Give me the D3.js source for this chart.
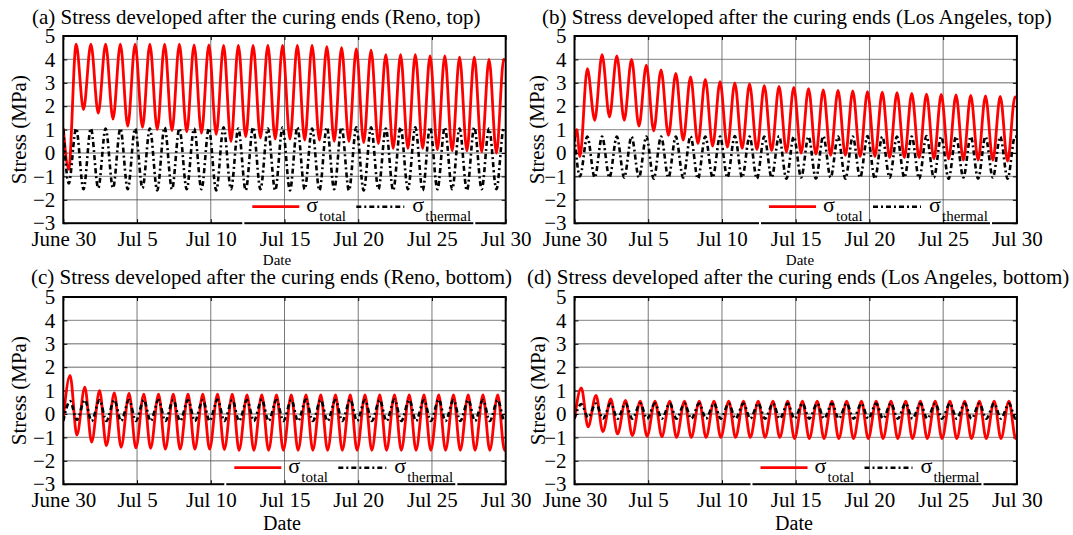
<!DOCTYPE html>
<html>
<head>
<meta charset="utf-8">
<script src="https://cdn.jsdelivr.net/npm/d3@7"></script>
<style>
body { margin: 0; background: #fff; }
text { font-family: "Times New Roman", "Liberation Serif", serif; fill: #000; }
</style>
</head>
<body>
<script>
// axis ticks
var dateTicks = [0, 5, 10, 15, 20, 25, 30];
var dateLabels = ["June 30", "Jul 5", "Jul 10", "Jul 15", "Jul 20", "Jul 25", "Jul 30"];
var stressTicks = [-3, -2, -1, 0, 1, 2, 3, 4, 5];

// top of slab: daily trough ~ day+0.37, daily peak ~ day+0.87
// bottom of slab: daily peak ~ day+0.46, daily trough ~ day+0.92

// (a) Reno, top
var renoTopTotalStart = [[0, 1.05]];
var renoTopTotalTroughs = [-0.7, 1.85, 1.7, 1.45, 1.15, 1.1, 1.0, 0.95, 0.9, 0.85, 0.8, 0.5, 0.7, 0.65, 0.6, 0.6, 0.55, 0.55, 0.5, 0.5, 0.45, 0.4, 0.2, 0.2, 0.2, 0.15, 0.1, 0.1, 0.05, 0.0];
var renoTopTotalPeaks = [4.65, 4.65, 4.65, 4.65, 4.65, 4.65, 4.65, 4.65, 4.62, 4.62, 4.6, 4.6, 4.6, 4.6, 4.6, 4.6, 4.6, 4.55, 4.5, 4.45, 4.4, 4.2, 4.2, 4.2, 4.15, 4.15, 4.1, 4.1, 4.0, 4.0];
var renoTopTotalEnd = 3.95;
var renoTopThermalStart = [[0, 1.0]];
var renoTopThermalTroughs = [-1.3, -1.55, -1.5, -1.5, -1.55, -1.5, -1.6, -1.55, -1.55, -1.55, -1.6, -1.55, -1.6, -1.55, -1.6, -1.6, -1.55, -1.6, -1.55, -1.6, -1.6, -1.55, -1.6, -1.55, -1.6, -1.55, -1.55, -1.6, -1.55, -1.55];
var renoTopThermalPeaks = [1.05, 1.05, 1.05, 1.05, 1.05, 1.05, 1.1, 1.05, 1.05, 1.05, 1.1, 1.05, 1.1, 1.05, 1.1, 1.1, 1.05, 1.1, 1.1, 1.1, 1.1, 1.05, 1.1, 1.1, 1.1, 1.1, 1.05, 1.1, 1.05, 1.05];
var renoTopThermalEnd = 1.0;

// (b) Los Angeles, top
var laTopTotalStart = [[0, 0.6], [0.15, 1.0]];
var laTopTotalTroughs = [-0.15, 1.4, 1.55, 1.4, 1.15, 0.95, 0.75, 0.55, 0.4, 0.3, 0.25, 0.2, 0.15, 0.1, 0.05, 0.0, -0.05, -0.1, -0.1, -0.15, -0.15, -0.2, -0.2, -0.2, -0.25, -0.25, -0.3, -0.3, -0.3, -0.35];
var laTopTotalPeaks = [3.6, 4.2, 4.15, 4.0, 3.75, 3.55, 3.4, 3.25, 3.15, 3.05, 3.0, 2.95, 2.88, 2.85, 2.8, 2.75, 2.7, 2.68, 2.65, 2.62, 2.6, 2.58, 2.55, 2.52, 2.5, 2.48, 2.46, 2.44, 2.42, 2.4];
var laTopTotalEnd = 2.35;
var laTopThermalStart = [[0, 0.7]];
var laTopThermalTroughs = [-1.0, -1.05, -1.05, -1.05, -1.05, -1.1, -1.05, -1.05, -1.1, -1.05, -1.05, -1.05, -1.1, -1.05, -1.1, -1.05, -1.1, -1.05, -1.1, -1.05, -1.1, -1.05, -1.05, -1.1, -1.05, -1.1, -1.05, -1.1, -1.05, -1.1];
var laTopThermalPeaks = [0.7, 0.7, 0.7, 0.7, 0.7, 0.7, 0.7, 0.72, 0.7, 0.7, 0.72, 0.7, 0.7, 0.72, 0.7, 0.7, 0.72, 0.7, 0.7, 0.72, 0.7, 0.7, 0.7, 0.72, 0.7, 0.7, 0.7, 0.7, 0.7, 0.7];
var laTopThermalEnd = 0.7;

// (c) Reno, bottom
var renoBotTotalStart = [[0, -0.2]];
var renoBotTotalPeaks = [1.65, 1.15, 1.0, 0.9, 0.88, 0.85, 0.85, 0.85, 0.85, 0.85, 0.85, 0.85, 0.82, 0.82, 0.82, 0.82, 0.82, 0.82, 0.82, 0.82, 0.82, 0.82, 0.82, 0.82, 0.82, 0.82, 0.82, 0.82, 0.82, 0.82];
var renoBotTotalTroughs = [-0.9, -1.2, -1.35, -1.42, -1.45, -1.47, -1.5, -1.5, -1.5, -1.5, -1.52, -1.55, -1.55, -1.55, -1.55, -1.55, -1.55, -1.55, -1.55, -1.55, -1.55, -1.55, -1.55, -1.55, -1.55, -1.55, -1.55, -1.55, -1.55, -1.55];
var renoBotTotalEnd = -1.55;
var renoBotThermalStart = [[0, -0.3]];
var renoBotThermalPeaks = [0.55, 0.6, 0.6, 0.6, 0.6, 0.6, 0.6, 0.6, 0.6, 0.6, 0.62, 0.6, 0.6, 0.62, 0.6, 0.6, 0.62, 0.6, 0.6, 0.62, 0.6, 0.6, 0.62, 0.6, 0.6, 0.62, 0.6, 0.6, 0.6, 0.6];
var renoBotThermalTroughs = [-0.25, -0.3, -0.3, -0.3, -0.3, -0.3, -0.3, -0.3, -0.3, -0.3, -0.3, -0.3, -0.3, -0.3, -0.3, -0.3, -0.3, -0.3, -0.3, -0.3, -0.3, -0.3, -0.3, -0.3, -0.3, -0.3, -0.3, -0.3, -0.3, -0.3];
var renoBotThermalEnd = -0.3;

// (d) Los Angeles, bottom
var laBotTotalStart = [[0, -0.2]];
var laBotTotalPeaks = [1.12, 0.8, 0.65, 0.58, 0.55, 0.55, 0.55, 0.55, 0.55, 0.55, 0.55, 0.55, 0.55, 0.55, 0.55, 0.55, 0.55, 0.55, 0.55, 0.55, 0.55, 0.55, 0.55, 0.55, 0.55, 0.55, 0.55, 0.55, 0.55, 0.55];
var laBotTotalTroughs = [-0.55, -0.75, -0.85, -0.92, -0.95, -0.97, -1.0, -1.0, -1.0, -1.0, -1.0, -1.0, -1.0, -1.0, -1.05, -1.05, -1.05, -1.05, -1.05, -1.05, -1.05, -1.05, -1.05, -1.05, -1.05, -1.05, -1.05, -1.05, -1.05, -1.05];
var laBotTotalEnd = -1.0;
var laBotThermalStart = [[0, -0.2]];
var laBotThermalPeaks = [0.42, 0.45, 0.45, 0.45, 0.45, 0.45, 0.45, 0.45, 0.45, 0.45, 0.45, 0.45, 0.45, 0.45, 0.45, 0.45, 0.45, 0.45, 0.45, 0.45, 0.45, 0.45, 0.45, 0.45, 0.45, 0.45, 0.45, 0.45, 0.45, 0.45];
var laBotThermalTroughs = [-0.15, -0.2, -0.2, -0.2, -0.2, -0.2, -0.2, -0.2, -0.2, -0.2, -0.2, -0.2, -0.2, -0.2, -0.2, -0.2, -0.2, -0.2, -0.2, -0.2, -0.2, -0.2, -0.2, -0.2, -0.2, -0.2, -0.2, -0.2, -0.2, -0.2];
var laBotThermalEnd = -0.2;

// join start points, two daily extrema and the end point into one series
function series(start, first, firstAt, second, secondAt, end) {
  var pts = start.slice();
  for (var n = 0; n < first.length; n++) {
    pts.push([n + firstAt, first[n]]);
    pts.push([n + secondAt, second[n]]);
  }
  pts.push([30, end]);
  return pts;
}

var panels = [
  { title: "(a) Stress developed after the curing ends (Reno, top)", left: 63.3, top: 36, titleX: 32, titleY: 24, ylabX: 19, dateX: 277, dateY: 265, dateSize: 15, legX: 189,
    total: series(renoTopTotalStart, renoTopTotalTroughs, 0.37, renoTopTotalPeaks, 0.87, renoTopTotalEnd),
    thermal: series(renoTopThermalStart, renoTopThermalTroughs, 0.37, renoTopThermalPeaks, 0.87, renoTopThermalEnd) },
  { title: "(b) Stress developed after the curing ends (Los Angeles, top)", left: 574.5, top: 36, titleX: 542, titleY: 24, ylabX: 537, dateX: 800, dateY: 265, dateSize: 15, legX: 194.5,
    total: series(laTopTotalStart, laTopTotalTroughs, 0.37, laTopTotalPeaks, 0.87, laTopTotalEnd),
    thermal: series(laTopThermalStart, laTopThermalTroughs, 0.37, laTopThermalPeaks, 0.87, laTopThermalEnd) },
  { title: "(c) Stress developed after the curing ends (Reno, bottom)", left: 63.3, top: 297, titleX: 31, titleY: 284, ylabX: 19, dateX: 282, dateY: 530, dateSize: 20, legX: 171,
    total: series(renoBotTotalStart, renoBotTotalPeaks, 0.46, renoBotTotalTroughs, 0.92, renoBotTotalEnd),
    thermal: series(renoBotThermalStart, renoBotThermalPeaks, 0.46, renoBotThermalTroughs, 0.92, renoBotThermalEnd) },
  { title: "(d) Stress developed after the curing ends (Los Angeles, bottom)", left: 574.5, top: 297, titleX: 527, titleY: 284, ylabX: 538, dateX: 794, dateY: 530, dateSize: 20, legX: 186,
    total: series(laBotTotalStart, laBotTotalPeaks, 0.46, laBotTotalTroughs, 0.92, laBotTotalEnd),
    thermal: series(laBotThermalStart, laBotThermalPeaks, 0.46, laBotThermalTroughs, 0.92, laBotThermalEnd) }
];

var W = 442.4, H = 187.2;

var svg = d3.select("body").append("svg")
  .attr("width", 1073)
  .attr("height", 535)
  .style("background", "#fff");

panels.forEach(function(p, i) {
  var x = d3.scaleLinear().domain([0, 30]).range([0, W]);
  var y = d3.scaleLinear().domain([-3, 5]).range([H, 0]);

  svg.append("text")
    .attr("x", p.titleX).attr("y", p.titleY)
    .style("font-size", "21px")
    .text(p.title);

  var g = svg.append("g").attr("transform", "translate(" + p.left + "," + p.top + ")");

  // grid
  g.selectAll(".hgrid").data(stressTicks.slice(1, -1)).enter().append("line")
    .attr("x1", 0).attr("x2", W)
    .attr("y1", function(d) { return y(d); }).attr("y2", function(d) { return y(d); })
    .attr("stroke", "#9a9a9a").attr("stroke-width", 1.4);
  g.selectAll(".vgrid").data(dateTicks.slice(1, -1)).enter().append("line")
    .attr("y1", 0).attr("y2", H)
    .attr("x1", function(d) { return x(d); }).attr("x2", function(d) { return x(d); })
    .attr("stroke", "#555").attr("stroke-width", 0.8);

  // axes: labels only, ticks drawn inward
  var xAxis = d3.axisBottom(x).tickValues(dateTicks)
    .tickFormat(function(d, k) { return dateLabels[k]; })
    .tickSize(-4).tickPadding(11);
  var gx = g.append("g").attr("transform", "translate(0," + H + ")").call(xAxis);
  var yAxis = d3.axisLeft(y).tickValues(stressTicks).tickSize(-4).tickPadding(8);
  var gy = g.append("g").call(yAxis);
  g.append("g").attr("transform", "translate(" + W + ",0)")
    .call(d3.axisRight(y).tickValues(stressTicks).tickSize(-4).tickFormat(""));
  g.append("g").call(d3.axisTop(x).tickValues(dateTicks).tickSize(-4).tickFormat(""));
  g.selectAll(".domain").remove();
  g.selectAll(".tick line").attr("stroke", "#000").attr("stroke-width", 1);
  gx.selectAll("text").style("font-size", "21px").attr("dy", "0.55em");
  gy.selectAll("text").style("font-size", "21px");

  // curves
  g.append("clipPath").attr("id", "clip" + i).append("rect").attr("width", W).attr("height", H);
  var line = d3.line()
    .x(function(d) { return x(d[0]); })
    .y(function(d) { return y(d[1]); })
    .curve(d3.curveMonotoneX);
  var plot = g.append("g").attr("clip-path", "url(#clip" + i + ")");
  plot.append("path").datum(p.total)
    .attr("d", line).attr("fill", "none")
    .attr("stroke", "#ff0000").attr("stroke-width", 2.8);
  plot.append("path").datum(p.thermal)
    .attr("d", line).attr("fill", "none")
    .attr("stroke", "#000").attr("stroke-width", 2.6)
    .attr("stroke-dasharray", "5,3,2,3");

  // frame
  g.append("rect").attr("width", W).attr("height", H)
    .attr("fill", "none").attr("stroke", "#000").attr("stroke-width", 2);

  // legend
  var lx = p.legX;
  g.append("rect").attr("x", lx - 10).attr("y", H - 2).attr("width", 2).attr("height", 4).attr("fill", "#fff");
  g.append("rect").attr("x", lx + 221).attr("y", H - 2).attr("width", 2).attr("height", 4).attr("fill", "#fff");
  g.append("line").attr("x1", lx).attr("x2", lx + 47).attr("y1", H - 16.5).attr("y2", H - 16.5)
    .attr("stroke", "#ff0000").attr("stroke-width", 2.8);
  g.append("line").attr("x1", lx + 104).attr("x2", lx + 152).attr("y1", H - 16.5).attr("y2", H - 16.5)
    .attr("stroke", "#000").attr("stroke-width", 2.6).attr("stroke-dasharray", "5,3,2,3");
  var leg = [["total", 54], ["thermal", 160]];
  leg.forEach(function(l) {
    g.append("text").attr("x", lx + l[1]).attr("y", H - 11).style("font-size", "22px").text("σ");
    g.append("text").attr("x", lx + l[1] + 13).attr("y", H - 2).style("font-size", "15px").text(l[0]);
  });

  // axis titles
  svg.append("text")
    .attr("transform", "translate(" + p.ylabX + "," + (p.top + H / 2) + ") rotate(-90)")
    .attr("text-anchor", "middle").attr("dominant-baseline", "central")
    .style("font-size", "21px")
    .text("Stress (MPa)");
  svg.append("text")
    .attr("x", p.dateX).attr("y", p.dateY)
    .attr("text-anchor", "middle")
    .style("font-size", p.dateSize + "px")
    .text("Date");
});
</script>
</body>
</html>
